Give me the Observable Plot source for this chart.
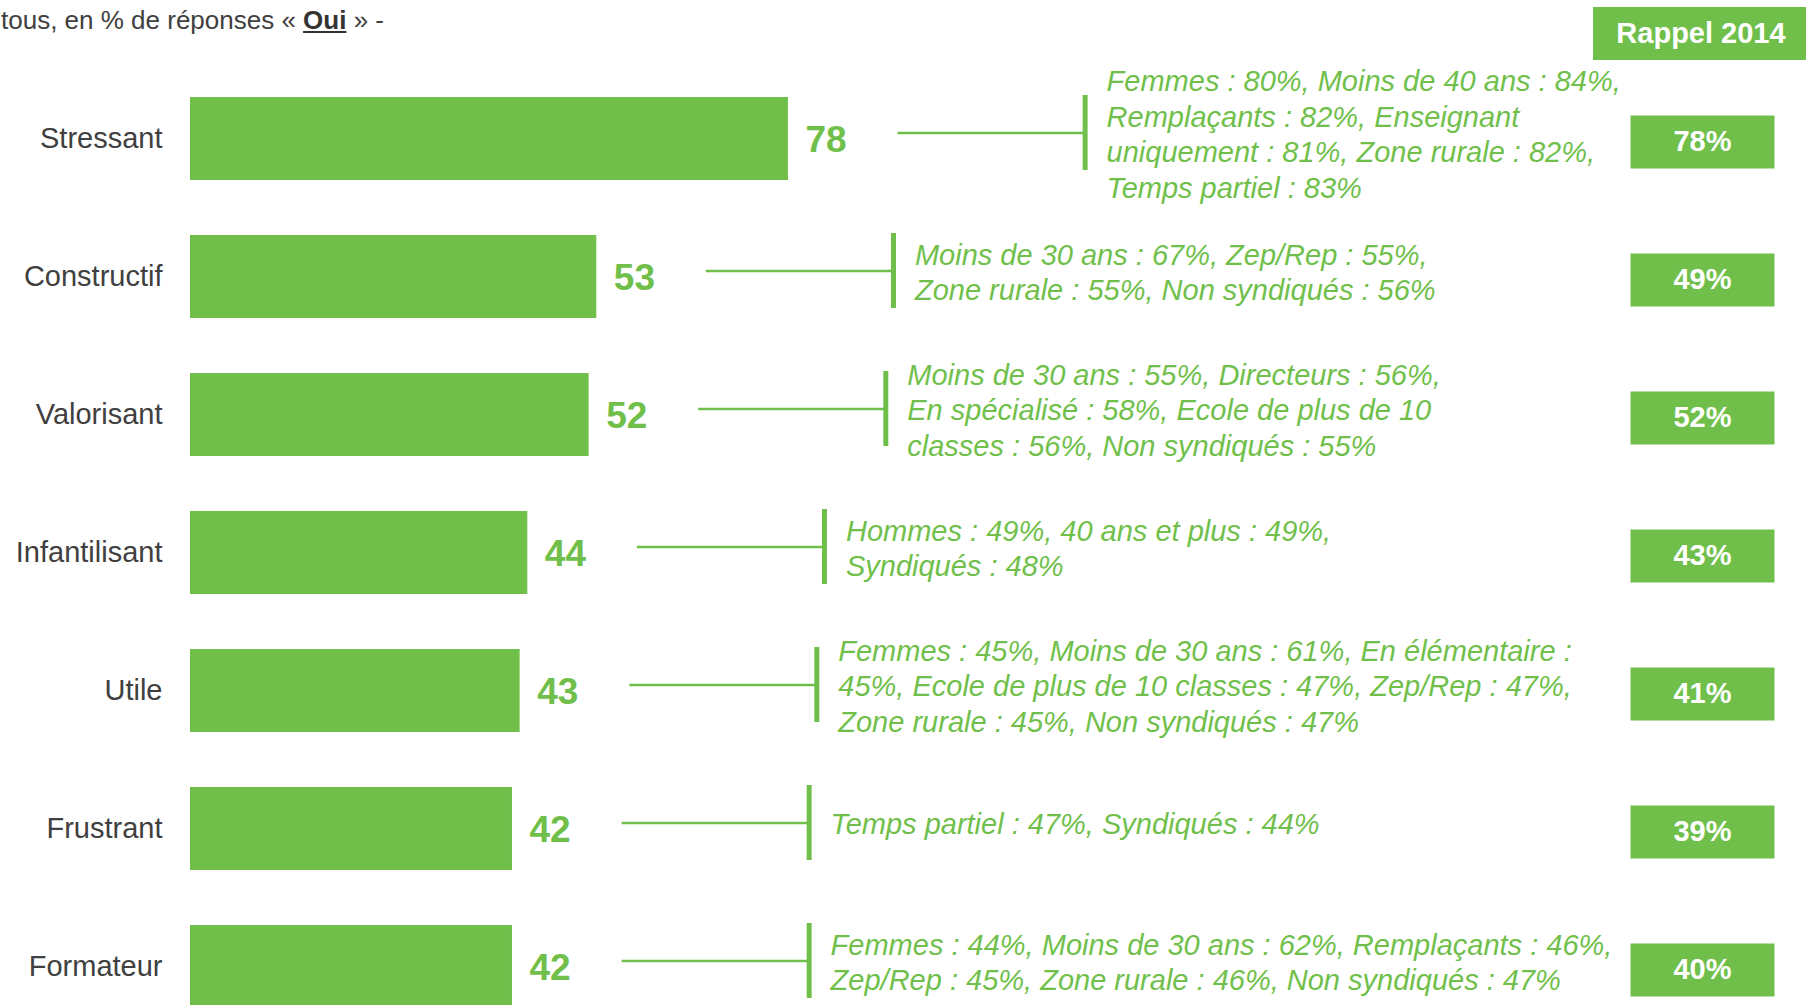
<!DOCTYPE html>
<html><head><meta charset="utf-8">
<script src="https://cdn.jsdelivr.net/npm/d3@7"></script>
<script src="https://cdn.jsdelivr.net/npm/@observablehq/plot@0.6"></script>
<style>
html,body{margin:0;padding:0;background:#fff;overflow:hidden;width:1806px;height:1005px;}
body{font-family:"Liberation Sans",Arial,sans-serif;}
#header{position:relative;height:60px;width:1806px;overflow:hidden;}
#subtitle{position:absolute;left:1px;top:6px;font-size:26px;line-height:28px;color:#404040;white-space:nowrap;}
#subtitle b{text-decoration:underline;color:#333;}
#rappel{position:absolute;left:1593px;top:7px;width:213px;height:53px;background:#70BF4B;color:#fff;font-weight:bold;font-size:29px;display:flex;align-items:center;justify-content:center;padding-left:3px;box-sizing:border-box;}
#chart svg{display:block;}
</style></head>
<body>
<div id="header"><div id="subtitle">tous, en % de réponses « <b>Oui</b> » -</div><div id="rappel">Rappel 2014</div></div>
<div id="chart"></div>
<script>
const categories = ["Stressant", "Constructif", "Valorisant", "Infantilisant", "Utile", "Frustrant", "Formateur"];
const values = [78, 53, 52, 44, 43, 42, 42];
const rappel2014 = [78, 49, 52, 43, 41, 39, 40];
const notes = [
  ["Femmes : 80%, Moins de 40 ans : 84%,", "Remplaçants : 82%, Enseignant", "uniquement : 81%, Zone rurale : 82%,", "Temps partiel : 83%"],
  ["Moins de 30 ans : 67%, Zep/Rep : 55%,", "Zone rurale : 55%, Non syndiqués : 56%"],
  ["Moins de 30 ans : 55%, Directeurs : 56%,", "En spécialisé : 58%, Ecole de plus de 10", "classes : 56%, Non syndiqués : 55%"],
  ["Hommes : 49%, 40 ans et plus : 49%,", "Syndiqués : 48%"],
  ["Femmes : 45%, Moins de 30 ans : 61%, En élémentaire :", "45%, Ecole de plus de 10 classes : 47%, Zep/Rep : 47%,", "Zone rurale : 45%, Non syndiqués : 47%"],
  ["Temps partiel : 47%, Syndiqués : 44%"],
  ["Femmes : 44%, Moins de 30 ans : 62%, Remplaçants : 46%,", "Zep/Rep : 45%, Zone rurale : 46%, Non syndiqués : 47%"]
];

const data = categories.map((c, i) => ({cat: c, value: values[i], rappel: rappel2014[i], note: notes[i].join("\n")}));

const green = "#70BF4B";
const lead = 14.3, connLen = 24.4, gap = 2.8;
const boxSymbol = {draw(ctx) { ctx.moveTo(-72, -26.5); ctx.lineTo(72, -26.5); ctx.lineTo(72, 26.5); ctx.lineTo(-72, 26.5); ctx.closePath(); }};

const chart = Plot.plot({
  width: 1806, height: 945,
  marginLeft: 190, marginRight: 0, marginTop: 0, marginBottom: 0,
  style: {fontFamily: '"Liberation Sans", Arial, sans-serif', fontSize: "29px", background: "white", overflow: "hidden"},
  x: {domain: [0, 210.8], axis: null},
  y: {domain: categories, range: [8.9, 976.3], paddingInner: 0.4, paddingOuter: 0.2},
  marks: [
    Plot.barX(data, {x: "value", y: "cat", fill: green}),
    Plot.axisY({tickSize: 0, tickPadding: 28, fontSize: 29, color: "#404040", label: null}),
    Plot.text(data, {x: "value", y: "cat", text: d => String(d.value), dx: 17, dy: 1, textAnchor: "start", fontWeight: "bold", fontSize: 37, fill: green}),
    Plot.ruleY(data, {y: "cat", x1: d => d.value + lead, x2: d => d.value + lead + connLen, dy: -6, stroke: green, strokeWidth: 2.5}),
    Plot.tickX(data, {x: d => d.value + lead + connLen, y: "cat", dy: -6, insetTop: 4, insetBottom: 4, stroke: green, strokeWidth: 5}),
    Plot.text(data, {x: d => d.value + lead + connLen + gap, y: "cat", text: "note", textAnchor: "start", lineHeight: 1.23, fontStyle: "italic", fontSize: 29, fill: green, dy: -6}),
    Plot.dot(data, {y: "cat", frameAnchor: "right", dx: -104, dy: 3, symbol: boxSymbol, fill: green, stroke: null}),
    Plot.text(data, {y: "cat", frameAnchor: "right", dx: -104, dy: 3, textAnchor: "middle", text: d => d.rappel + "%", fill: "white", fontWeight: "bold", fontSize: 29})
  ]
});
document.getElementById("chart").appendChild(chart);
</script>
</body></html>
